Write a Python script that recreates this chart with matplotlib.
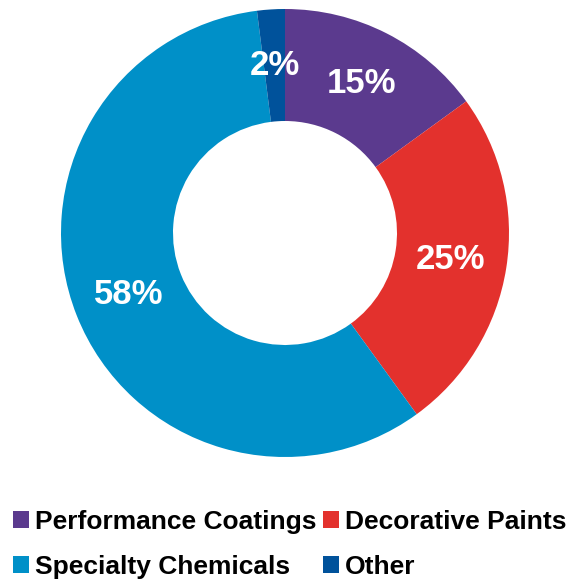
import matplotlib.pyplot as plt
from matplotlib.patches import Patch

plt.rcParams['font.family'] = ['Liberation Sans', 'DejaVu Sans']

# data
segments = ['Performance Coatings', 'Decorative Paints', 'Specialty Chemicals', 'Other']
shares = [15, 25, 58, 2]
colours = ['#5B3A8E', '#E3312D', '#0090C8', '#00529B']

fig = plt.figure(figsize=(5.7, 5.8), dpi=100)
ax = fig.add_axes([61 / 570, 123 / 580, 448 / 570, 448 / 580])

wedges, texts, pcts = ax.pie(shares, colors=colours, startangle=90, counterclock=False,
                             wedgeprops=dict(width=0.5, edgecolor='none'),
                             autopct='%d%%', pctdistance=0.75,
                             textprops=dict(color='white', fontsize=25, fontweight='bold'))
ax.set_xlim(-1, 1)
ax.set_ylim(-1, 1)
ax.set_aspect('equal')

# legend fills by column, so reorder to read row by row
order = [0, 2, 1, 3]
handles = [Patch(facecolor=colours[i], edgecolor='none') for i in order]
labels = [segments[i] for i in order]
fig.legend(handles, labels, loc='lower left', bbox_to_anchor=(0.0, -12 / 580), ncol=2,
           frameon=False, prop=dict(size=19, weight='bold'),
           handlelength=0.6, handleheight=0.6, handletextpad=0.23,
           columnspacing=0.25, labelspacing=0.8, borderpad=0.0)

fig.savefig('out.png', dpi=100)
